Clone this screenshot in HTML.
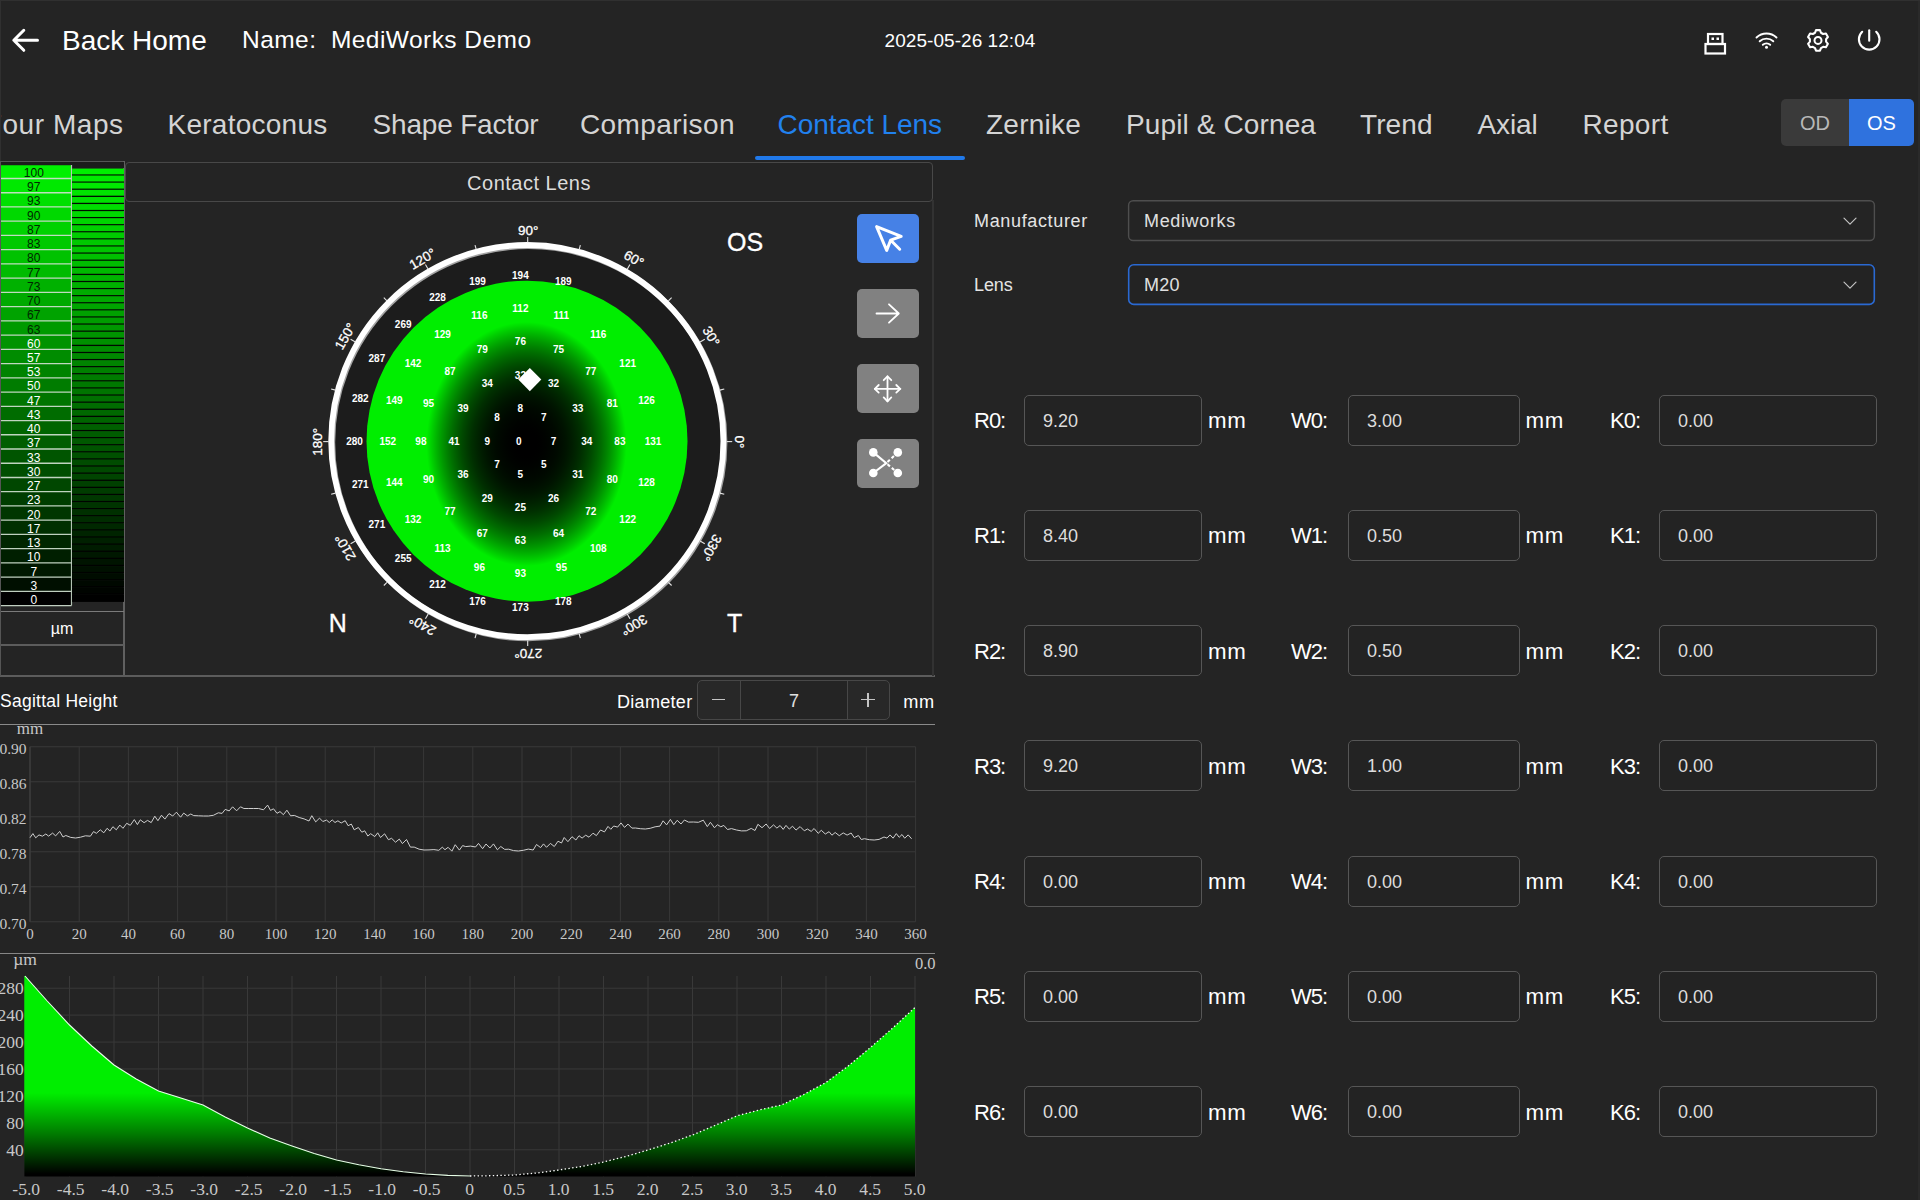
<!DOCTYPE html>
<html><head><meta charset="utf-8"><title>Contact Lens</title>
<style>
*{box-sizing:border-box;margin:0;padding:0}
html,body{width:1920px;height:1200px;overflow:hidden;background:#242424;font-family:"Liberation Sans",sans-serif;color:#fff}
.abs{position:absolute}
.t{position:absolute;white-space:nowrap;line-height:1}
.tab{position:absolute;top:109px;font-size:28px;color:#d4d4d4;white-space:nowrap;line-height:32px}
.inp{position:absolute;height:51px;border:1px solid #565656;border-radius:5px;background:#232323;font-size:18px;color:#dcdcdc;line-height:51px;padding-left:18px}
.lbl{position:absolute;font-size:22px;color:#fff;line-height:26px;white-space:nowrap;letter-spacing:-1px}
.mm{position:absolute;font-size:22.3px;color:#fff;line-height:26px;white-space:nowrap;letter-spacing:0.8px}
.hl{position:absolute;height:1px;background:#5a5a5a}
.vl{position:absolute;width:1px;background:#5a5a5a}
.btn{position:absolute;left:857px;width:62px;height:49px;border-radius:5px;background:#818181}
svg{position:absolute;left:0;top:0;overflow:visible}
svg text{font-family:"Liberation Sans",sans-serif}
.ser{font-family:"Liberation Serif",serif}
</style></head><body>

<svg width="1920" height="170" viewBox="0 0 1920 170">
<path d="M37.5 40.3H14M23.8 30.3L13.8 40.3l10 10" fill="none" stroke="#fff" stroke-width="3" stroke-linecap="round" stroke-linejoin="round"/>
<g fill="none" stroke="#fff" stroke-width="2.2"><rect x="1705.5" y="44" width="19.5" height="9.5"/><rect x="1708" y="34" width="14.5" height="10"/></g>
<rect x="1711.5" y="37.5" width="2.5" height="2.5" fill="#fff"/><rect x="1716.5" y="37.5" width="2.5" height="2.5" fill="#fff"/>
<g fill="none" stroke="#fff" stroke-width="1.9" stroke-linecap="round"><path d="M1756.5 37.5a14.5 14.5 0 0 1 20 0"/><path d="M1759.7 41.3a10 10 0 0 1 13.6 0"/><path d="M1762.8 44.8a5.6 5.6 0 0 1 7.4 0"/></g><circle cx="1766.5" cy="47.3" r="1.5" fill="#fff"/>
<path d="M1815.03 32.75 L1816.02 30.09 L1819.98 30.09 L1820.97 32.75 L1823.14 34.01 L1825.94 33.53 L1827.92 36.96 L1826.10 39.15 L1826.10 41.65 L1827.92 43.84 L1825.94 47.27 L1823.14 46.79 L1820.97 48.05 L1819.98 50.71 L1816.02 50.71 L1815.03 48.05 L1812.86 46.79 L1810.06 47.27 L1808.08 43.84 L1809.90 41.65 L1809.90 39.15 L1808.08 36.96 L1810.06 33.53 L1812.86 34.01Z" fill="none" stroke="#fff" stroke-width="2.1" stroke-linejoin="round"/>
<circle cx="1818.0" cy="40.4" r="3.5" fill="none" stroke="#fff" stroke-width="2"/>
<g fill="none" stroke="#fff" stroke-width="2.1" stroke-linecap="round"><path d="M1862.2 31.8a10.3 10.3 0 1 0 14 0"/><path d="M1869.2 30.2v10.6"/></g>
</svg>
<div class="t" style="left:62px;top:27px;font-size:28px;color:#fff">Back Home</div>
<div class="t" style="left:242px;top:27.5px;font-size:24.5px;letter-spacing:0.45px;color:#fff">Name:&nbsp; MediWorks Demo</div>
<div class="t" style="left:860px;width:200px;text-align:center;top:30.5px;font-size:19px;letter-spacing:0.05px;color:#fff">2025-05-26 12:04</div>
<div class="tab" style="left:-15.2px;letter-spacing:0.55px;">Four Maps</div>
<div class="tab" style="left:167.5px;letter-spacing:0.25px;">Keratoconus</div>
<div class="tab" style="left:372.5px;letter-spacing:-0.18px;">Shape Factor</div>
<div class="tab" style="left:580.0px;letter-spacing:0.40px;">Comparison</div>
<div class="tab" style="left:777.5px;letter-spacing:-0.04px;color:#2181ee;">Contact Lens</div>
<div class="tab" style="left:986.0px;letter-spacing:0.23px;">Zernike</div>
<div class="tab" style="left:1126.0px;letter-spacing:0.12px;">Pupil &amp; Cornea</div>
<div class="tab" style="left:1360.0px;letter-spacing:0.10px;">Trend</div>
<div class="tab" style="left:1477.5px;letter-spacing:-0.14px;">Axial</div>
<div class="tab" style="left:1582.5px;letter-spacing:0.33px;">Report</div>
<div class="abs" style="left:755px;top:156px;width:210px;height:4px;border-radius:2px;background:#2079ea"></div>
<div class="abs" style="left:1781px;top:99px;width:68px;height:47px;background:#3a3a3a;border-radius:5px 0 0 5px;color:#b8b8b8;font-size:20px;line-height:49.5px;text-align:center">OD</div>
<div class="abs" style="left:1849px;top:99px;width:65px;height:47px;background:#2f72de;border-radius:0 5px 5px 0;color:#fff;font-size:20px;line-height:49.5px;text-align:center">OS</div>
<div class="hl" style="left:0;top:161px;width:124px;background:#555"></div>
<div class="vl" style="left:123px;top:161px;height:515px;width:2px;background:#606060"></div>
<div class="hl" style="left:0;top:611px;width:124px;height:1px;background:#7a7a7a"></div>
<div class="hl" style="left:0;top:644px;width:124px;height:2px;background:#5c5c5c"></div>
<div class="hl" style="left:0;top:675px;width:935px;height:2px;background:#5c5c5c"></div>
<div class="vl" style="left:0;top:161px;height:515px;background:#555"></div>
<div class="abs" style="left:1px;top:162px;width:123px;height:6px;background:#1c1c1c"></div>
<svg width="130" height="680" viewBox="0 0 130 680">
<rect x="1" y="165.25" width="70.5" height="13.45" fill="rgb(0,240,0)"/>
<rect x="1" y="178.50" width="70.5" height="14.44" fill="rgb(0,233,0)"/>
<rect x="1" y="192.74" width="70.5" height="14.44" fill="rgb(0,224,0)"/>
<rect x="1" y="206.97" width="70.5" height="14.44" fill="rgb(0,217,0)"/>
<rect x="1" y="221.21" width="70.5" height="14.44" fill="rgb(0,210,0)"/>
<rect x="1" y="235.45" width="70.5" height="14.44" fill="rgb(0,201,0)"/>
<rect x="1" y="249.69" width="70.5" height="14.44" fill="rgb(0,194,0)"/>
<rect x="1" y="263.92" width="70.5" height="14.44" fill="rgb(0,187,0)"/>
<rect x="1" y="278.16" width="70.5" height="14.44" fill="rgb(0,177,0)"/>
<rect x="1" y="292.40" width="70.5" height="14.44" fill="rgb(0,170,0)"/>
<rect x="1" y="306.63" width="70.5" height="14.44" fill="rgb(0,163,0)"/>
<rect x="1" y="320.87" width="70.5" height="14.44" fill="rgb(0,154,0)"/>
<rect x="1" y="335.11" width="70.5" height="14.44" fill="rgb(0,147,0)"/>
<rect x="1" y="349.34" width="70.5" height="14.44" fill="rgb(0,140,0)"/>
<rect x="1" y="363.58" width="70.5" height="14.44" fill="rgb(0,131,0)"/>
<rect x="1" y="377.82" width="70.5" height="14.44" fill="rgb(0,124,0)"/>
<rect x="1" y="392.06" width="70.5" height="14.44" fill="rgb(0,117,0)"/>
<rect x="1" y="406.29" width="70.5" height="14.44" fill="rgb(0,108,0)"/>
<rect x="1" y="420.53" width="70.5" height="14.44" fill="rgb(0,101,0)"/>
<rect x="1" y="434.77" width="70.5" height="14.44" fill="rgb(0,94,0)"/>
<rect x="1" y="449.00" width="70.5" height="14.44" fill="rgb(0,85,0)"/>
<rect x="1" y="463.24" width="70.5" height="14.44" fill="rgb(0,78,0)"/>
<rect x="1" y="477.48" width="70.5" height="14.44" fill="rgb(0,71,0)"/>
<rect x="1" y="491.71" width="70.5" height="14.44" fill="rgb(0,61,0)"/>
<rect x="1" y="505.95" width="70.5" height="14.44" fill="rgb(0,54,0)"/>
<rect x="1" y="520.19" width="70.5" height="14.44" fill="rgb(0,47,0)"/>
<rect x="1" y="534.42" width="70.5" height="14.44" fill="rgb(0,38,0)"/>
<rect x="1" y="548.66" width="70.5" height="14.44" fill="rgb(0,31,0)"/>
<rect x="1" y="562.90" width="70.5" height="14.44" fill="rgb(0,24,0)"/>
<rect x="1" y="577.14" width="70.5" height="14.44" fill="rgb(0,15,0)"/>
<rect x="1" y="591.37" width="70.5" height="14.44" fill="rgb(0,0,0)"/>
<line x1="1" x2="71.5" y1="178.50" y2="178.50" stroke="#d0e0d0" stroke-width="1.3" opacity="0.92"/>
<line x1="1" x2="71.5" y1="192.74" y2="192.74" stroke="#d0e0d0" stroke-width="1.3" opacity="0.92"/>
<line x1="1" x2="71.5" y1="206.97" y2="206.97" stroke="#d0e0d0" stroke-width="1.3" opacity="0.92"/>
<line x1="1" x2="71.5" y1="221.21" y2="221.21" stroke="#d0e0d0" stroke-width="1.3" opacity="0.92"/>
<line x1="1" x2="71.5" y1="235.45" y2="235.45" stroke="#d0e0d0" stroke-width="1.3" opacity="0.92"/>
<line x1="1" x2="71.5" y1="249.69" y2="249.69" stroke="#d0e0d0" stroke-width="1.3" opacity="0.92"/>
<line x1="1" x2="71.5" y1="263.92" y2="263.92" stroke="#d0e0d0" stroke-width="1.3" opacity="0.92"/>
<line x1="1" x2="71.5" y1="278.16" y2="278.16" stroke="#d0e0d0" stroke-width="1.3" opacity="0.92"/>
<line x1="1" x2="71.5" y1="292.40" y2="292.40" stroke="#d0e0d0" stroke-width="1.3" opacity="0.92"/>
<line x1="1" x2="71.5" y1="306.63" y2="306.63" stroke="#d0e0d0" stroke-width="1.3" opacity="0.92"/>
<line x1="1" x2="71.5" y1="320.87" y2="320.87" stroke="#d0e0d0" stroke-width="1.3" opacity="0.92"/>
<line x1="1" x2="71.5" y1="335.11" y2="335.11" stroke="#d0e0d0" stroke-width="1.3" opacity="0.92"/>
<line x1="1" x2="71.5" y1="349.34" y2="349.34" stroke="#d0e0d0" stroke-width="1.3" opacity="0.92"/>
<line x1="1" x2="71.5" y1="363.58" y2="363.58" stroke="#d0e0d0" stroke-width="1.3" opacity="0.92"/>
<line x1="1" x2="71.5" y1="377.82" y2="377.82" stroke="#d0e0d0" stroke-width="1.3" opacity="0.92"/>
<line x1="1" x2="71.5" y1="392.06" y2="392.06" stroke="#d0e0d0" stroke-width="1.3" opacity="0.92"/>
<line x1="1" x2="71.5" y1="406.29" y2="406.29" stroke="#d0e0d0" stroke-width="1.3" opacity="0.92"/>
<line x1="1" x2="71.5" y1="420.53" y2="420.53" stroke="#d0e0d0" stroke-width="1.3" opacity="0.92"/>
<line x1="1" x2="71.5" y1="434.77" y2="434.77" stroke="#d0e0d0" stroke-width="1.3" opacity="0.92"/>
<line x1="1" x2="71.5" y1="449.00" y2="449.00" stroke="#d0e0d0" stroke-width="1.3" opacity="0.92"/>
<line x1="1" x2="71.5" y1="463.24" y2="463.24" stroke="#d0e0d0" stroke-width="1.3" opacity="0.92"/>
<line x1="1" x2="71.5" y1="477.48" y2="477.48" stroke="#d0e0d0" stroke-width="1.3" opacity="0.92"/>
<line x1="1" x2="71.5" y1="491.71" y2="491.71" stroke="#d0e0d0" stroke-width="1.3" opacity="0.92"/>
<line x1="1" x2="71.5" y1="505.95" y2="505.95" stroke="#d0e0d0" stroke-width="1.3" opacity="0.92"/>
<line x1="1" x2="71.5" y1="520.19" y2="520.19" stroke="#d0e0d0" stroke-width="1.3" opacity="0.92"/>
<line x1="1" x2="71.5" y1="534.42" y2="534.42" stroke="#d0e0d0" stroke-width="1.3" opacity="0.92"/>
<line x1="1" x2="71.5" y1="548.66" y2="548.66" stroke="#d0e0d0" stroke-width="1.3" opacity="0.92"/>
<line x1="1" x2="71.5" y1="562.90" y2="562.90" stroke="#d0e0d0" stroke-width="1.3" opacity="0.92"/>
<line x1="1" x2="71.5" y1="577.14" y2="577.14" stroke="#d0e0d0" stroke-width="1.3" opacity="0.92"/>
<line x1="1" x2="71.5" y1="591.37" y2="591.37" stroke="#d0e0d0" stroke-width="1.3" opacity="0.92"/>
<line x1="1" x2="71.5" y1="605.61" y2="605.61" stroke="#d0e0d0" stroke-width="1.3" opacity="0.92"/>
<line x1="71.5" x2="71.5" y1="165" y2="605.5" stroke="#c4d4c4" stroke-width="1.2" opacity="0.9"/>
<text x="33.8" y="176.90" font-size="12" text-anchor="middle" fill="#002800">100</text>
<text x="33.8" y="191.14" font-size="12" text-anchor="middle" fill="#002800">97</text>
<text x="33.8" y="205.37" font-size="12" text-anchor="middle" fill="#002800">93</text>
<text x="33.8" y="219.61" font-size="12" text-anchor="middle" fill="#002800">90</text>
<text x="33.8" y="233.85" font-size="12" text-anchor="middle" fill="#002800">87</text>
<text x="33.8" y="248.09" font-size="12" text-anchor="middle" fill="#002800">83</text>
<text x="33.8" y="262.32" font-size="12" text-anchor="middle" fill="#002800">80</text>
<text x="33.8" y="276.56" font-size="12" text-anchor="middle" fill="#002800">77</text>
<text x="33.8" y="290.80" font-size="12" text-anchor="middle" fill="#002800">73</text>
<text x="33.8" y="305.03" font-size="12" text-anchor="middle" fill="#002800">70</text>
<text x="33.8" y="319.27" font-size="12" text-anchor="middle" fill="#002800">67</text>
<text x="33.8" y="333.51" font-size="12" text-anchor="middle" fill="#002800">63</text>
<text x="33.8" y="347.74" font-size="12" text-anchor="middle" fill="#fff">60</text>
<text x="33.8" y="361.98" font-size="12" text-anchor="middle" fill="#fff">57</text>
<text x="33.8" y="376.22" font-size="12" text-anchor="middle" fill="#fff">53</text>
<text x="33.8" y="390.45" font-size="12" text-anchor="middle" fill="#fff">50</text>
<text x="33.8" y="404.69" font-size="12" text-anchor="middle" fill="#fff">47</text>
<text x="33.8" y="418.93" font-size="12" text-anchor="middle" fill="#fff">43</text>
<text x="33.8" y="433.17" font-size="12" text-anchor="middle" fill="#fff">40</text>
<text x="33.8" y="447.40" font-size="12" text-anchor="middle" fill="#fff">37</text>
<text x="33.8" y="461.64" font-size="12" text-anchor="middle" fill="#fff">33</text>
<text x="33.8" y="475.88" font-size="12" text-anchor="middle" fill="#fff">30</text>
<text x="33.8" y="490.11" font-size="12" text-anchor="middle" fill="#fff">27</text>
<text x="33.8" y="504.35" font-size="12" text-anchor="middle" fill="#fff">23</text>
<text x="33.8" y="518.59" font-size="12" text-anchor="middle" fill="#fff">20</text>
<text x="33.8" y="532.82" font-size="12" text-anchor="middle" fill="#fff">17</text>
<text x="33.8" y="547.06" font-size="12" text-anchor="middle" fill="#fff">13</text>
<text x="33.8" y="561.30" font-size="12" text-anchor="middle" fill="#fff">10</text>
<text x="33.8" y="575.54" font-size="12" text-anchor="middle" fill="#fff">7</text>
<text x="33.8" y="589.77" font-size="12" text-anchor="middle" fill="#fff">3</text>
<text x="33.8" y="604.01" font-size="12" text-anchor="middle" fill="#fff">0</text>
<rect x="72" y="168.60" width="52" height="7.20" fill="rgb(0,240,0)"/>
<rect x="72" y="174.40" width="52" height="1.3" fill="rgb(0,14,0)"/>
<rect x="72" y="175.70" width="52" height="7.20" fill="rgb(0,236,0)"/>
<rect x="72" y="181.50" width="52" height="1.3" fill="rgb(0,14,0)"/>
<rect x="72" y="182.80" width="52" height="7.20" fill="rgb(0,232,0)"/>
<rect x="72" y="188.60" width="52" height="1.3" fill="rgb(0,14,0)"/>
<rect x="72" y="189.90" width="52" height="7.20" fill="rgb(0,228,0)"/>
<rect x="72" y="195.69" width="52" height="1.3" fill="rgb(0,14,0)"/>
<rect x="72" y="196.99" width="52" height="7.20" fill="rgb(0,224,0)"/>
<rect x="72" y="202.79" width="52" height="1.3" fill="rgb(0,13,0)"/>
<rect x="72" y="204.09" width="52" height="7.20" fill="rgb(0,220,0)"/>
<rect x="72" y="209.89" width="52" height="1.3" fill="rgb(0,13,0)"/>
<rect x="72" y="211.19" width="52" height="7.20" fill="rgb(0,216,0)"/>
<rect x="72" y="216.99" width="52" height="1.3" fill="rgb(0,13,0)"/>
<rect x="72" y="218.29" width="52" height="7.20" fill="rgb(0,212,0)"/>
<rect x="72" y="224.09" width="52" height="1.3" fill="rgb(0,13,0)"/>
<rect x="72" y="225.39" width="52" height="7.20" fill="rgb(0,208,0)"/>
<rect x="72" y="231.19" width="52" height="1.3" fill="rgb(0,12,0)"/>
<rect x="72" y="232.49" width="52" height="7.20" fill="rgb(0,204,0)"/>
<rect x="72" y="238.28" width="52" height="1.3" fill="rgb(0,12,0)"/>
<rect x="72" y="239.58" width="52" height="7.20" fill="rgb(0,200,0)"/>
<rect x="72" y="245.38" width="52" height="1.3" fill="rgb(0,12,0)"/>
<rect x="72" y="246.68" width="52" height="7.20" fill="rgb(0,196,0)"/>
<rect x="72" y="252.48" width="52" height="1.3" fill="rgb(0,12,0)"/>
<rect x="72" y="253.78" width="52" height="7.20" fill="rgb(0,192,0)"/>
<rect x="72" y="259.58" width="52" height="1.3" fill="rgb(0,12,0)"/>
<rect x="72" y="260.88" width="52" height="7.20" fill="rgb(0,188,0)"/>
<rect x="72" y="266.68" width="52" height="1.3" fill="rgb(0,11,0)"/>
<rect x="72" y="267.98" width="52" height="7.20" fill="rgb(0,184,0)"/>
<rect x="72" y="273.78" width="52" height="1.3" fill="rgb(0,11,0)"/>
<rect x="72" y="275.08" width="52" height="7.20" fill="rgb(0,180,0)"/>
<rect x="72" y="280.87" width="52" height="1.3" fill="rgb(0,11,0)"/>
<rect x="72" y="282.17" width="52" height="7.20" fill="rgb(0,176,0)"/>
<rect x="72" y="287.97" width="52" height="1.3" fill="rgb(0,11,0)"/>
<rect x="72" y="289.27" width="52" height="7.20" fill="rgb(0,172,0)"/>
<rect x="72" y="295.07" width="52" height="1.3" fill="rgb(0,10,0)"/>
<rect x="72" y="296.37" width="52" height="7.20" fill="rgb(0,168,0)"/>
<rect x="72" y="302.17" width="52" height="1.3" fill="rgb(0,10,0)"/>
<rect x="72" y="303.47" width="52" height="7.20" fill="rgb(0,164,0)"/>
<rect x="72" y="309.27" width="52" height="1.3" fill="rgb(0,10,0)"/>
<rect x="72" y="310.57" width="52" height="7.20" fill="rgb(0,160,0)"/>
<rect x="72" y="316.37" width="52" height="1.3" fill="rgb(0,10,0)"/>
<rect x="72" y="317.67" width="52" height="7.20" fill="rgb(0,156,0)"/>
<rect x="72" y="323.46" width="52" height="1.3" fill="rgb(0,9,0)"/>
<rect x="72" y="324.76" width="52" height="7.20" fill="rgb(0,152,0)"/>
<rect x="72" y="330.56" width="52" height="1.3" fill="rgb(0,9,0)"/>
<rect x="72" y="331.86" width="52" height="7.20" fill="rgb(0,148,0)"/>
<rect x="72" y="337.66" width="52" height="1.3" fill="rgb(0,9,0)"/>
<rect x="72" y="338.96" width="52" height="7.20" fill="rgb(0,144,0)"/>
<rect x="72" y="344.76" width="52" height="1.3" fill="rgb(0,9,0)"/>
<rect x="72" y="346.06" width="52" height="7.20" fill="rgb(0,140,0)"/>
<rect x="72" y="351.86" width="52" height="1.3" fill="rgb(0,8,0)"/>
<rect x="72" y="353.16" width="52" height="7.20" fill="rgb(0,136,0)"/>
<rect x="72" y="358.96" width="52" height="1.3" fill="rgb(0,8,0)"/>
<rect x="72" y="360.26" width="52" height="7.20" fill="rgb(0,132,0)"/>
<rect x="72" y="366.05" width="52" height="1.3" fill="rgb(0,8,0)"/>
<rect x="72" y="367.35" width="52" height="7.20" fill="rgb(0,128,0)"/>
<rect x="72" y="373.15" width="52" height="1.3" fill="rgb(0,8,0)"/>
<rect x="72" y="374.45" width="52" height="7.20" fill="rgb(0,124,0)"/>
<rect x="72" y="380.25" width="52" height="1.3" fill="rgb(0,7,0)"/>
<rect x="72" y="381.55" width="52" height="7.20" fill="rgb(0,120,0)"/>
<rect x="72" y="387.35" width="52" height="1.3" fill="rgb(0,7,0)"/>
<rect x="72" y="388.65" width="52" height="7.20" fill="rgb(0,116,0)"/>
<rect x="72" y="394.45" width="52" height="1.3" fill="rgb(0,7,0)"/>
<rect x="72" y="395.75" width="52" height="7.20" fill="rgb(0,112,0)"/>
<rect x="72" y="401.55" width="52" height="1.3" fill="rgb(0,7,0)"/>
<rect x="72" y="402.85" width="52" height="7.20" fill="rgb(0,108,0)"/>
<rect x="72" y="408.64" width="52" height="1.3" fill="rgb(0,6,0)"/>
<rect x="72" y="409.94" width="52" height="7.20" fill="rgb(0,104,0)"/>
<rect x="72" y="415.74" width="52" height="1.3" fill="rgb(0,6,0)"/>
<rect x="72" y="417.04" width="52" height="7.20" fill="rgb(0,100,0)"/>
<rect x="72" y="422.84" width="52" height="1.3" fill="rgb(0,6,0)"/>
<rect x="72" y="424.14" width="52" height="7.20" fill="rgb(0,96,0)"/>
<rect x="72" y="429.94" width="52" height="1.3" fill="rgb(0,6,0)"/>
<rect x="72" y="431.24" width="52" height="7.20" fill="rgb(0,92,0)"/>
<rect x="72" y="437.04" width="52" height="1.3" fill="rgb(0,6,0)"/>
<rect x="72" y="438.34" width="52" height="7.20" fill="rgb(0,88,0)"/>
<rect x="72" y="444.14" width="52" height="1.3" fill="rgb(0,5,0)"/>
<rect x="72" y="445.44" width="52" height="7.20" fill="rgb(0,84,0)"/>
<rect x="72" y="451.23" width="52" height="1.3" fill="rgb(0,5,0)"/>
<rect x="72" y="452.53" width="52" height="7.20" fill="rgb(0,80,0)"/>
<rect x="72" y="458.33" width="52" height="1.3" fill="rgb(0,5,0)"/>
<rect x="72" y="459.63" width="52" height="7.20" fill="rgb(0,76,0)"/>
<rect x="72" y="465.43" width="52" height="1.3" fill="rgb(0,5,0)"/>
<rect x="72" y="466.73" width="52" height="7.20" fill="rgb(0,72,0)"/>
<rect x="72" y="472.53" width="52" height="1.3" fill="rgb(0,4,0)"/>
<rect x="72" y="473.83" width="52" height="7.20" fill="rgb(0,68,0)"/>
<rect x="72" y="479.63" width="52" height="1.3" fill="rgb(0,4,0)"/>
<rect x="72" y="480.93" width="52" height="7.20" fill="rgb(0,64,0)"/>
<rect x="72" y="486.73" width="52" height="1.3" fill="rgb(0,4,0)"/>
<rect x="72" y="488.03" width="52" height="7.20" fill="rgb(0,60,0)"/>
<rect x="72" y="493.82" width="52" height="1.3" fill="rgb(0,4,0)"/>
<rect x="72" y="495.12" width="52" height="7.20" fill="rgb(0,56,0)"/>
<rect x="72" y="500.92" width="52" height="1.3" fill="rgb(0,3,0)"/>
<rect x="72" y="502.22" width="52" height="7.20" fill="rgb(0,52,0)"/>
<rect x="72" y="508.02" width="52" height="1.3" fill="rgb(0,3,0)"/>
<rect x="72" y="509.32" width="52" height="7.20" fill="rgb(0,48,0)"/>
<rect x="72" y="515.12" width="52" height="1.3" fill="rgb(0,3,0)"/>
<rect x="72" y="516.42" width="52" height="7.20" fill="rgb(0,44,0)"/>
<rect x="72" y="522.22" width="52" height="1.3" fill="rgb(0,3,0)"/>
<rect x="72" y="523.52" width="52" height="7.20" fill="rgb(0,40,0)"/>
<rect x="72" y="529.32" width="52" height="1.3" fill="rgb(0,2,0)"/>
<rect x="72" y="530.62" width="52" height="7.20" fill="rgb(0,36,0)"/>
<rect x="72" y="536.41" width="52" height="1.3" fill="rgb(0,2,0)"/>
<rect x="72" y="537.71" width="52" height="7.20" fill="rgb(0,32,0)"/>
<rect x="72" y="543.51" width="52" height="1.3" fill="rgb(0,2,0)"/>
<rect x="72" y="544.81" width="52" height="7.20" fill="rgb(0,28,0)"/>
<rect x="72" y="550.61" width="52" height="1.3" fill="rgb(0,2,0)"/>
<rect x="72" y="551.91" width="52" height="7.20" fill="rgb(0,24,0)"/>
<rect x="72" y="557.71" width="52" height="1.3" fill="rgb(0,1,0)"/>
<rect x="72" y="559.01" width="52" height="7.20" fill="rgb(0,20,0)"/>
<rect x="72" y="564.81" width="52" height="1.3" fill="rgb(0,1,0)"/>
<rect x="72" y="566.11" width="52" height="7.20" fill="rgb(0,16,0)"/>
<rect x="72" y="571.91" width="52" height="1.3" fill="rgb(0,1,0)"/>
<rect x="72" y="573.21" width="52" height="7.20" fill="rgb(0,12,0)"/>
<rect x="72" y="579.00" width="52" height="1.3" fill="rgb(0,1,0)"/>
<rect x="72" y="580.30" width="52" height="7.20" fill="rgb(0,8,0)"/>
<rect x="72" y="586.10" width="52" height="1.3" fill="rgb(0,0,0)"/>
<rect x="72" y="587.40" width="52" height="7.20" fill="rgb(0,4,0)"/>
<rect x="72" y="593.20" width="52" height="1.3" fill="rgb(0,0,0)"/>
<rect x="72" y="594.50" width="52" height="7.20" fill="rgb(0,0,0)"/>
<rect x="72" y="600.30" width="52" height="1.3" fill="rgb(0,0,0)"/>
</svg>
<div class="t" style="left:0;width:124px;text-align:center;top:621px;font-size:16px;color:#fff">µm</div>
<div class="abs" style="left:125px;top:161.5px;width:808px;height:40px;border:1px solid #484848;border-radius:4px;font-size:20px;letter-spacing:0.5px;line-height:40.5px;text-align:center;color:#dcdcdc">Contact Lens</div>
<div class="vl" style="left:932px;top:200px;height:476px;width:2px;background:#323232"></div>
<div class="btn" style="top:214px;background:#4681e6"></div>
<div class="btn" style="top:288.7px"></div>
<div class="btn" style="top:364px"></div>
<div class="btn" style="top:439px"></div>
<svg width="1920" height="700" viewBox="0 0 1920 700">
<path d="M876.6 226.6L901.2 236.4L890.6 240.2L886.7 250.4Z M891 240.5L899.7 249.2" fill="none" stroke="#fff" stroke-width="3" stroke-linejoin="round" stroke-linecap="round"/>
<path d="M876.5 313.5h22M889 304.3l9.8 9.2l-9.8 9.2" fill="none" stroke="#fff" stroke-width="1.8" stroke-linecap="round" stroke-linejoin="round"/>
<g fill="none" stroke="#fff" stroke-width="1.8" stroke-linecap="round" stroke-linejoin="round"><path d="M887.5 376.3v25M874.8 388.8h25.6"/><path d="M883.7 380.2l3.8-3.9l3.8 3.9M883.7 397.4l3.8 3.9l3.8-3.9M878.7 385l-3.9 3.8l3.9 3.8M896.3 385l3.9 3.8l-3.9 3.8"/></g>
<g stroke="#fff" stroke-width="2.1" fill="none"><path d="M873.3 452.4L886.3 463.2L873.3 473"/><path d="M887.5 462L897.8 452.4M887.5 464.3L897.8 473" stroke-dasharray="3.2 2.4"/></g>
<circle cx="873.3" cy="452.4" r="4.3" fill="#fff"/>
<circle cx="897.8" cy="452.4" r="4.3" fill="#fff"/>
<circle cx="873.3" cy="473.0" r="4.3" fill="#fff"/>
<circle cx="897.8" cy="473.0" r="4.3" fill="#fff"/>
<circle cx="527.7" cy="441.6" r="196" fill="#1c1c1c"/>
<defs><radialGradient id="rg" cx="0" cy="0" r="1" gradientUnits="userSpaceOnUse" gradientTransform="translate(526.5 444) scale(100 122)">
<stop offset="0.00" stop-color="rgb(0,0,0)"/>
<stop offset="0.05" stop-color="rgb(0,0,0)"/>
<stop offset="0.10" stop-color="rgb(0,0,0)"/>
<stop offset="0.15" stop-color="rgb(0,1,0)"/>
<stop offset="0.20" stop-color="rgb(0,3,0)"/>
<stop offset="0.25" stop-color="rgb(0,6,0)"/>
<stop offset="0.30" stop-color="rgb(0,9,0)"/>
<stop offset="0.35" stop-color="rgb(0,14,0)"/>
<stop offset="0.40" stop-color="rgb(0,20,0)"/>
<stop offset="0.45" stop-color="rgb(0,28,0)"/>
<stop offset="0.50" stop-color="rgb(0,37,0)"/>
<stop offset="0.55" stop-color="rgb(0,47,0)"/>
<stop offset="0.60" stop-color="rgb(0,60,0)"/>
<stop offset="0.65" stop-color="rgb(0,74,0)"/>
<stop offset="0.70" stop-color="rgb(0,91,0)"/>
<stop offset="0.75" stop-color="rgb(0,109,0)"/>
<stop offset="0.80" stop-color="rgb(0,130,0)"/>
<stop offset="0.85" stop-color="rgb(0,153,0)"/>
<stop offset="0.90" stop-color="rgb(0,179,0)"/>
<stop offset="0.95" stop-color="rgb(0,207,0)"/>
<stop offset="1.00" stop-color="rgb(0,238,0)"/>
</radialGradient></defs>
<circle cx="527" cy="441.2" r="160.5" fill="url(#rg)"/>
<circle cx="528.5" cy="442.4" r="196.1" fill="none" stroke="#a4a4a4" stroke-width="5.6"/>
<circle cx="527.3" cy="441.1" r="196.1" fill="none" stroke="#fff" stroke-width="5.8"/>
<line x1="726.70" y1="441.60" x2="732.20" y2="441.60" stroke="#e4e4e4" stroke-width="1.1"/>
<line x1="719.92" y1="390.10" x2="724.27" y2="388.93" stroke="#e4e4e4" stroke-width="1.1"/>
<line x1="700.04" y1="342.10" x2="704.80" y2="339.35" stroke="#e4e4e4" stroke-width="1.1"/>
<line x1="668.41" y1="300.89" x2="671.60" y2="297.70" stroke="#e4e4e4" stroke-width="1.1"/>
<line x1="627.20" y1="269.26" x2="629.95" y2="264.50" stroke="#e4e4e4" stroke-width="1.1"/>
<line x1="579.20" y1="249.38" x2="580.37" y2="245.03" stroke="#e4e4e4" stroke-width="1.1"/>
<line x1="527.70" y1="242.60" x2="527.70" y2="237.10" stroke="#e4e4e4" stroke-width="1.1"/>
<line x1="476.20" y1="249.38" x2="475.03" y2="245.03" stroke="#e4e4e4" stroke-width="1.1"/>
<line x1="428.20" y1="269.26" x2="425.45" y2="264.50" stroke="#e4e4e4" stroke-width="1.1"/>
<line x1="386.99" y1="300.89" x2="383.80" y2="297.70" stroke="#e4e4e4" stroke-width="1.1"/>
<line x1="355.36" y1="342.10" x2="350.60" y2="339.35" stroke="#e4e4e4" stroke-width="1.1"/>
<line x1="335.48" y1="390.10" x2="331.13" y2="388.93" stroke="#e4e4e4" stroke-width="1.1"/>
<line x1="328.70" y1="441.60" x2="323.20" y2="441.60" stroke="#e4e4e4" stroke-width="1.1"/>
<line x1="335.48" y1="493.10" x2="331.13" y2="494.27" stroke="#e4e4e4" stroke-width="1.1"/>
<line x1="355.36" y1="541.10" x2="350.60" y2="543.85" stroke="#e4e4e4" stroke-width="1.1"/>
<line x1="386.99" y1="582.31" x2="383.80" y2="585.50" stroke="#e4e4e4" stroke-width="1.1"/>
<line x1="428.20" y1="613.94" x2="425.45" y2="618.70" stroke="#e4e4e4" stroke-width="1.1"/>
<line x1="476.20" y1="633.82" x2="475.03" y2="638.17" stroke="#e4e4e4" stroke-width="1.1"/>
<line x1="527.70" y1="640.60" x2="527.70" y2="646.10" stroke="#e4e4e4" stroke-width="1.1"/>
<line x1="579.20" y1="633.82" x2="580.37" y2="638.17" stroke="#e4e4e4" stroke-width="1.1"/>
<line x1="627.20" y1="613.94" x2="629.95" y2="618.70" stroke="#e4e4e4" stroke-width="1.1"/>
<line x1="668.41" y1="582.31" x2="671.60" y2="585.50" stroke="#e4e4e4" stroke-width="1.1"/>
<line x1="700.04" y1="541.10" x2="704.80" y2="543.85" stroke="#e4e4e4" stroke-width="1.1"/>
<line x1="719.92" y1="493.10" x2="724.27" y2="494.27" stroke="#e4e4e4" stroke-width="1.1"/>
<text x="0" y="0" font-size="13.5" fill="#fff" stroke="#fff" stroke-width="0.3" text-anchor="middle" transform="translate(739.40 441.90) rotate(90)" dy="4.5">0°</text>
<text x="0" y="0" font-size="13.5" fill="#fff" stroke="#fff" stroke-width="0.3" text-anchor="middle" transform="translate(711.10 336.30) rotate(60)" dy="4.5">30°</text>
<text x="0" y="0" font-size="13.5" fill="#fff" stroke="#fff" stroke-width="0.3" text-anchor="middle" transform="translate(633.80 259.00) rotate(30)" dy="4.5">60°</text>
<text x="0" y="0" font-size="13.5" fill="#fff" stroke="#fff" stroke-width="0.3" text-anchor="middle" transform="translate(528.20 230.70) rotate(0)" dy="4.5">90°</text>
<text x="0" y="0" font-size="13.5" fill="#fff" stroke="#fff" stroke-width="0.3" text-anchor="middle" transform="translate(422.60 259.00) rotate(-30)" dy="4.5">120°</text>
<text x="0" y="0" font-size="13.5" fill="#fff" stroke="#fff" stroke-width="0.3" text-anchor="middle" transform="translate(345.30 336.30) rotate(-60)" dy="4.5">150°</text>
<text x="0" y="0" font-size="13.5" fill="#fff" stroke="#fff" stroke-width="0.3" text-anchor="middle" transform="translate(317.00 441.90) rotate(-90)" dy="4.5">180°</text>
<text x="0" y="0" font-size="13.5" fill="#fff" stroke="#fff" stroke-width="0.3" text-anchor="middle" transform="translate(345.30 547.50) rotate(-120)" dy="4.5">210°</text>
<text x="0" y="0" font-size="13.5" fill="#fff" stroke="#fff" stroke-width="0.3" text-anchor="middle" transform="translate(422.60 624.80) rotate(-150)" dy="4.5">240°</text>
<text x="0" y="0" font-size="13.5" fill="#fff" stroke="#fff" stroke-width="0.3" text-anchor="middle" transform="translate(528.20 653.10) rotate(-180)" dy="4.5">270°</text>
<text x="0" y="0" font-size="13.5" fill="#fff" stroke="#fff" stroke-width="0.3" text-anchor="middle" transform="translate(633.80 624.80) rotate(-210)" dy="4.5">300°</text>
<text x="0" y="0" font-size="13.5" fill="#fff" stroke="#fff" stroke-width="0.3" text-anchor="middle" transform="translate(711.10 547.50) rotate(-240)" dy="4.5">330°</text>
<text x="518.7" y="445.0" font-size="10" font-weight="bold" fill="#fff" text-anchor="middle">0</text>
<text x="520.4" y="411.7" font-size="10" font-weight="bold" fill="#fff" text-anchor="middle">8</text>
<text x="543.8" y="421.4" font-size="10" font-weight="bold" fill="#fff" text-anchor="middle">7</text>
<text x="553.5" y="444.8" font-size="10" font-weight="bold" fill="#fff" text-anchor="middle">7</text>
<text x="543.8" y="468.2" font-size="10" font-weight="bold" fill="#fff" text-anchor="middle">5</text>
<text x="520.4" y="477.9" font-size="10" font-weight="bold" fill="#fff" text-anchor="middle">5</text>
<text x="497.0" y="468.2" font-size="10" font-weight="bold" fill="#fff" text-anchor="middle">7</text>
<text x="487.2" y="444.8" font-size="10" font-weight="bold" fill="#fff" text-anchor="middle">9</text>
<text x="497.0" y="421.4" font-size="10" font-weight="bold" fill="#fff" text-anchor="middle">8</text>
<text x="520.4" y="378.5" font-size="10" font-weight="bold" fill="#fff" text-anchor="middle">32</text>
<text x="553.5" y="387.4" font-size="10" font-weight="bold" fill="#fff" text-anchor="middle">32</text>
<text x="577.8" y="411.7" font-size="10" font-weight="bold" fill="#fff" text-anchor="middle">33</text>
<text x="586.7" y="444.8" font-size="10" font-weight="bold" fill="#fff" text-anchor="middle">34</text>
<text x="577.8" y="477.9" font-size="10" font-weight="bold" fill="#fff" text-anchor="middle">31</text>
<text x="553.5" y="502.2" font-size="10" font-weight="bold" fill="#fff" text-anchor="middle">26</text>
<text x="520.4" y="511.1" font-size="10" font-weight="bold" fill="#fff" text-anchor="middle">25</text>
<text x="487.2" y="502.2" font-size="10" font-weight="bold" fill="#fff" text-anchor="middle">29</text>
<text x="463.0" y="477.9" font-size="10" font-weight="bold" fill="#fff" text-anchor="middle">36</text>
<text x="454.1" y="444.8" font-size="10" font-weight="bold" fill="#fff" text-anchor="middle">41</text>
<text x="463.0" y="411.7" font-size="10" font-weight="bold" fill="#fff" text-anchor="middle">39</text>
<text x="487.2" y="387.4" font-size="10" font-weight="bold" fill="#fff" text-anchor="middle">34</text>
<text x="520.4" y="345.4" font-size="10" font-weight="bold" fill="#fff" text-anchor="middle">76</text>
<text x="558.5" y="352.9" font-size="10" font-weight="bold" fill="#fff" text-anchor="middle">75</text>
<text x="590.7" y="374.5" font-size="10" font-weight="bold" fill="#fff" text-anchor="middle">77</text>
<text x="612.3" y="406.7" font-size="10" font-weight="bold" fill="#fff" text-anchor="middle">81</text>
<text x="619.9" y="444.8" font-size="10" font-weight="bold" fill="#fff" text-anchor="middle">83</text>
<text x="612.3" y="482.9" font-size="10" font-weight="bold" fill="#fff" text-anchor="middle">80</text>
<text x="590.7" y="515.1" font-size="10" font-weight="bold" fill="#fff" text-anchor="middle">72</text>
<text x="558.5" y="536.7" font-size="10" font-weight="bold" fill="#fff" text-anchor="middle">64</text>
<text x="520.4" y="544.3" font-size="10" font-weight="bold" fill="#fff" text-anchor="middle">63</text>
<text x="482.3" y="536.7" font-size="10" font-weight="bold" fill="#fff" text-anchor="middle">67</text>
<text x="450.1" y="515.1" font-size="10" font-weight="bold" fill="#fff" text-anchor="middle">77</text>
<text x="428.5" y="482.9" font-size="10" font-weight="bold" fill="#fff" text-anchor="middle">90</text>
<text x="420.9" y="444.8" font-size="10" font-weight="bold" fill="#fff" text-anchor="middle">98</text>
<text x="428.5" y="406.7" font-size="10" font-weight="bold" fill="#fff" text-anchor="middle">95</text>
<text x="450.1" y="374.5" font-size="10" font-weight="bold" fill="#fff" text-anchor="middle">87</text>
<text x="482.3" y="352.9" font-size="10" font-weight="bold" fill="#fff" text-anchor="middle">79</text>
<text x="520.4" y="312.2" font-size="10" font-weight="bold" fill="#fff" text-anchor="middle">112</text>
<text x="561.4" y="318.7" font-size="10" font-weight="bold" fill="#fff" text-anchor="middle">111</text>
<text x="598.3" y="337.5" font-size="10" font-weight="bold" fill="#fff" text-anchor="middle">116</text>
<text x="627.7" y="366.9" font-size="10" font-weight="bold" fill="#fff" text-anchor="middle">121</text>
<text x="646.5" y="403.8" font-size="10" font-weight="bold" fill="#fff" text-anchor="middle">126</text>
<text x="653.0" y="444.8" font-size="10" font-weight="bold" fill="#fff" text-anchor="middle">131</text>
<text x="646.5" y="485.8" font-size="10" font-weight="bold" fill="#fff" text-anchor="middle">128</text>
<text x="627.7" y="522.7" font-size="10" font-weight="bold" fill="#fff" text-anchor="middle">122</text>
<text x="598.3" y="552.1" font-size="10" font-weight="bold" fill="#fff" text-anchor="middle">108</text>
<text x="561.4" y="570.9" font-size="10" font-weight="bold" fill="#fff" text-anchor="middle">95</text>
<text x="520.4" y="577.4" font-size="10" font-weight="bold" fill="#fff" text-anchor="middle">93</text>
<text x="479.4" y="570.9" font-size="10" font-weight="bold" fill="#fff" text-anchor="middle">96</text>
<text x="442.5" y="552.1" font-size="10" font-weight="bold" fill="#fff" text-anchor="middle">113</text>
<text x="413.1" y="522.7" font-size="10" font-weight="bold" fill="#fff" text-anchor="middle">132</text>
<text x="394.3" y="485.8" font-size="10" font-weight="bold" fill="#fff" text-anchor="middle">144</text>
<text x="387.8" y="444.8" font-size="10" font-weight="bold" fill="#fff" text-anchor="middle">152</text>
<text x="394.3" y="403.8" font-size="10" font-weight="bold" fill="#fff" text-anchor="middle">149</text>
<text x="413.1" y="366.9" font-size="10" font-weight="bold" fill="#fff" text-anchor="middle">142</text>
<text x="442.5" y="337.5" font-size="10" font-weight="bold" fill="#fff" text-anchor="middle">129</text>
<text x="479.4" y="318.7" font-size="10" font-weight="bold" fill="#fff" text-anchor="middle">116</text>
<text x="520.4" y="279.1" font-size="10" font-weight="bold" fill="#fff" text-anchor="middle">194</text>
<text x="563.3" y="284.7" font-size="10" font-weight="bold" fill="#fff" text-anchor="middle">189</text>
<text x="563.3" y="604.9" font-size="10" font-weight="bold" fill="#fff" text-anchor="middle">178</text>
<text x="520.4" y="610.6" font-size="10" font-weight="bold" fill="#fff" text-anchor="middle">173</text>
<text x="477.5" y="604.9" font-size="10" font-weight="bold" fill="#fff" text-anchor="middle">176</text>
<text x="437.5" y="588.3" font-size="10" font-weight="bold" fill="#fff" text-anchor="middle">212</text>
<text x="403.2" y="562.0" font-size="10" font-weight="bold" fill="#fff" text-anchor="middle">255</text>
<text x="376.9" y="527.7" font-size="10" font-weight="bold" fill="#fff" text-anchor="middle">271</text>
<text x="360.3" y="487.7" font-size="10" font-weight="bold" fill="#fff" text-anchor="middle">271</text>
<text x="354.6" y="444.8" font-size="10" font-weight="bold" fill="#fff" text-anchor="middle">280</text>
<text x="360.3" y="401.9" font-size="10" font-weight="bold" fill="#fff" text-anchor="middle">282</text>
<text x="376.9" y="361.9" font-size="10" font-weight="bold" fill="#fff" text-anchor="middle">287</text>
<text x="403.2" y="327.6" font-size="10" font-weight="bold" fill="#fff" text-anchor="middle">269</text>
<text x="437.5" y="301.3" font-size="10" font-weight="bold" fill="#fff" text-anchor="middle">228</text>
<text x="477.5" y="284.7" font-size="10" font-weight="bold" fill="#fff" text-anchor="middle">199</text>
<path d="M529.8 368L541.3 379.6L529.8 391.2L518.3 379.6Z" fill="#fff"/>
<text x="727" y="251" font-size="25" fill="#fff" stroke="#fff" stroke-width="0.3">OS</text>
<text x="328.7" y="632.3" font-size="25" fill="#fff" stroke="#fff" stroke-width="0.3">N</text>
<text x="727" y="632.3" font-size="25" fill="#fff" stroke="#fff" stroke-width="0.3">T</text>
</svg>
<div class="t" style="left:0px;top:692.8px;font-size:17.5px;letter-spacing:0.25px;color:#fff">Sagittal Height</div>
<div class="t" style="left:617px;top:693.3px;font-size:18px;letter-spacing:0.3px;color:#fff">Diameter</div>
<div class="t" style="left:903.3px;top:693px;font-size:18.2px;letter-spacing:0.5px;color:#fff">mm</div>
<div class="abs" style="left:697px;top:680px;width:193px;height:40px;border:1px solid #474747;border-radius:5px;background:#282828"></div>
<div class="vl" style="left:740px;top:681px;height:38px;background:#474747"></div>
<div class="vl" style="left:847px;top:681px;height:38px;background:#474747"></div>
<div class="abs" style="left:741px;top:681px;width:106px;height:38px;background:#242424;font-size:18px;color:#e0e0e0;text-align:center;line-height:40.5px">7</div>
<div class="abs" style="left:712px;top:699px;width:13px;height:1.2px;background:#c4c4c4"></div>
<div class="abs" style="left:861px;top:699px;width:14px;height:1.2px;background:#c4c4c4"></div>
<div class="abs" style="left:867.4px;top:692.6px;width:1.2px;height:14px;background:#c4c4c4"></div>
<div class="hl" style="left:0;top:724px;width:935px;height:1px;background:#8a8a8a"></div>
<div class="hl" style="left:0;top:953px;width:935px;height:1px;background:#868686"></div>
<svg width="960" height="1200" viewBox="0 0 960 1200">
<line x1="30.00" x2="30.00" y1="746.75" y2="921.75" stroke="#383838" stroke-width="1"/>
<line x1="79.20" x2="79.20" y1="746.75" y2="921.75" stroke="#383838" stroke-width="1"/>
<line x1="128.40" x2="128.40" y1="746.75" y2="921.75" stroke="#383838" stroke-width="1"/>
<line x1="177.60" x2="177.60" y1="746.75" y2="921.75" stroke="#383838" stroke-width="1"/>
<line x1="226.80" x2="226.80" y1="746.75" y2="921.75" stroke="#383838" stroke-width="1"/>
<line x1="276.00" x2="276.00" y1="746.75" y2="921.75" stroke="#383838" stroke-width="1"/>
<line x1="325.20" x2="325.20" y1="746.75" y2="921.75" stroke="#383838" stroke-width="1"/>
<line x1="374.40" x2="374.40" y1="746.75" y2="921.75" stroke="#383838" stroke-width="1"/>
<line x1="423.60" x2="423.60" y1="746.75" y2="921.75" stroke="#383838" stroke-width="1"/>
<line x1="472.80" x2="472.80" y1="746.75" y2="921.75" stroke="#383838" stroke-width="1"/>
<line x1="522.00" x2="522.00" y1="746.75" y2="921.75" stroke="#383838" stroke-width="1"/>
<line x1="571.20" x2="571.20" y1="746.75" y2="921.75" stroke="#383838" stroke-width="1"/>
<line x1="620.40" x2="620.40" y1="746.75" y2="921.75" stroke="#383838" stroke-width="1"/>
<line x1="669.60" x2="669.60" y1="746.75" y2="921.75" stroke="#383838" stroke-width="1"/>
<line x1="718.80" x2="718.80" y1="746.75" y2="921.75" stroke="#383838" stroke-width="1"/>
<line x1="768.00" x2="768.00" y1="746.75" y2="921.75" stroke="#383838" stroke-width="1"/>
<line x1="817.20" x2="817.20" y1="746.75" y2="921.75" stroke="#383838" stroke-width="1"/>
<line x1="866.40" x2="866.40" y1="746.75" y2="921.75" stroke="#383838" stroke-width="1"/>
<line x1="915.60" x2="915.60" y1="746.75" y2="921.75" stroke="#383838" stroke-width="1"/>
<line x1="30.00" x2="915.60" y1="746.75" y2="746.75" stroke="#383838" stroke-width="1"/>
<line x1="30.00" x2="915.60" y1="781.75" y2="781.75" stroke="#383838" stroke-width="1"/>
<line x1="30.00" x2="915.60" y1="816.75" y2="816.75" stroke="#383838" stroke-width="1"/>
<line x1="30.00" x2="915.60" y1="851.75" y2="851.75" stroke="#383838" stroke-width="1"/>
<line x1="30.00" x2="915.60" y1="886.75" y2="886.75" stroke="#383838" stroke-width="1"/>
<line x1="30.00" x2="915.60" y1="921.75" y2="921.75" stroke="#383838" stroke-width="1"/>
<line x1="30.00" x2="30.00" y1="746.75" y2="921.75" stroke="#404040" stroke-width="1"/>
<text class="ser" x="30.00" y="939" font-size="15" fill="#c8c8c8" text-anchor="middle">0</text>
<text class="ser" x="79.20" y="939" font-size="15" fill="#c8c8c8" text-anchor="middle">20</text>
<text class="ser" x="128.40" y="939" font-size="15" fill="#c8c8c8" text-anchor="middle">40</text>
<text class="ser" x="177.60" y="939" font-size="15" fill="#c8c8c8" text-anchor="middle">60</text>
<text class="ser" x="226.80" y="939" font-size="15" fill="#c8c8c8" text-anchor="middle">80</text>
<text class="ser" x="276.00" y="939" font-size="15" fill="#c8c8c8" text-anchor="middle">100</text>
<text class="ser" x="325.20" y="939" font-size="15" fill="#c8c8c8" text-anchor="middle">120</text>
<text class="ser" x="374.40" y="939" font-size="15" fill="#c8c8c8" text-anchor="middle">140</text>
<text class="ser" x="423.60" y="939" font-size="15" fill="#c8c8c8" text-anchor="middle">160</text>
<text class="ser" x="472.80" y="939" font-size="15" fill="#c8c8c8" text-anchor="middle">180</text>
<text class="ser" x="522.00" y="939" font-size="15" fill="#c8c8c8" text-anchor="middle">200</text>
<text class="ser" x="571.20" y="939" font-size="15" fill="#c8c8c8" text-anchor="middle">220</text>
<text class="ser" x="620.40" y="939" font-size="15" fill="#c8c8c8" text-anchor="middle">240</text>
<text class="ser" x="669.60" y="939" font-size="15" fill="#c8c8c8" text-anchor="middle">260</text>
<text class="ser" x="718.80" y="939" font-size="15" fill="#c8c8c8" text-anchor="middle">280</text>
<text class="ser" x="768.00" y="939" font-size="15" fill="#c8c8c8" text-anchor="middle">300</text>
<text class="ser" x="817.20" y="939" font-size="15" fill="#c8c8c8" text-anchor="middle">320</text>
<text class="ser" x="866.40" y="939" font-size="15" fill="#c8c8c8" text-anchor="middle">340</text>
<text class="ser" x="915.60" y="939" font-size="15" fill="#c8c8c8" text-anchor="middle">360</text>
<text class="ser" x="26.5" y="753.75" font-size="15.5" fill="#c8c8c8" text-anchor="end">0.90</text>
<text class="ser" x="26.5" y="788.75" font-size="15.5" fill="#c8c8c8" text-anchor="end">0.86</text>
<text class="ser" x="26.5" y="823.75" font-size="15.5" fill="#c8c8c8" text-anchor="end">0.82</text>
<text class="ser" x="26.5" y="858.75" font-size="15.5" fill="#c8c8c8" text-anchor="end">0.78</text>
<text class="ser" x="26.5" y="893.75" font-size="15.5" fill="#c8c8c8" text-anchor="end">0.74</text>
<text class="ser" x="26.5" y="928.75" font-size="15.5" fill="#c8c8c8" text-anchor="end">0.70</text>
<text class="ser" x="16.8" y="733.8" font-size="17" fill="#c8c8c8">mm</text>
<polyline points="30.0,837.7 32.9,833.6 35.7,837.8 39.0,834.9 42.4,836.2 45.8,834.0 48.6,836.1 52.6,833.1 55.6,835.9 59.7,831.4 63.0,837.0 65.8,835.5 70.7,837.4 75.6,838.0 80.5,837.2 85.4,835.8 90.4,836.2 93.5,831.6 96.4,833.3 100.3,829.8 103.8,832.8 107.1,828.3 109.9,831.0 112.9,826.7 116.3,829.8 119.8,825.1 123.0,828.3 126.7,823.3 130.3,825.3 134.3,819.6 137.4,824.6 140.3,819.8 144.1,822.7 147.5,820.4 151.2,822.6 154.8,816.2 157.9,820.7 161.5,815.2 164.9,819.1 169.0,813.6 172.7,816.0 176.4,812.2 180.6,817.2 183.7,813.1 187.4,815.9 190.8,814.0 193.7,815.6 198.6,815.8 203.5,816.0 208.4,816.0 213.4,815.3 218.3,812.8 222.1,813.4 225.2,809.4 229.2,810.9 232.6,806.8 236.6,810.8 240.5,806.8 243.9,808.5 248.8,808.5 253.7,808.5 258.6,808.5 263.5,809.8 267.6,805.1 270.5,810.4 273.5,808.8 277.0,813.3 280.0,811.6 283.4,814.7 286.9,810.2 290.6,815.8 294.3,815.4 299.2,817.5 304.1,818.9 309.0,821.0 311.8,815.7 315.7,821.9 319.5,818.1 322.8,821.5 326.5,820.1 329.3,822.5 332.2,819.9 335.0,822.5 337.9,820.8 341.2,823.0 345.2,820.7 348.1,825.7 351.3,824.1 354.2,829.8 358.4,827.5 361.8,832.2 364.7,830.8 367.8,836.0 370.7,833.7 374.8,836.6 377.7,832.8 380.5,837.5 384.6,833.8 388.4,839.7 391.6,838.3 395.5,842.2 399.3,839.1 402.4,843.6 406.5,839.5 410.4,847.1 414.2,847.1 419.1,849.2 424.0,850.0 429.0,849.9 433.9,849.6 438.8,850.3 442.3,847.2 445.0,849.7 448.1,847.3 451.9,851.2 455.2,844.7 459.4,850.1 462.6,845.6 465.7,846.6 470.6,846.1 475.5,847.0 478.5,843.4 482.6,848.7 486.0,844.0 489.9,848.0 493.5,843.9 497.4,849.8 500.8,846.5 504.7,849.4 508.6,849.2 513.5,850.6 518.4,851.0 523.3,850.3 528.3,849.1 533.2,850.0 536.5,844.5 540.6,847.6 543.5,843.9 546.5,847.3 550.4,843.4 554.3,846.5 558.0,841.2 561.5,843.0 564.2,837.5 567.9,841.7 572.0,836.7 575.9,840.0 579.0,835.7 582.1,838.1 585.7,835.2 589.0,837.2 593.0,833.2 596.4,835.6 600.5,830.0 604.5,831.9 608.0,826.4 610.8,829.3 613.7,826.0 617.6,827.1 621.0,822.9 624.5,827.4 628.0,824.1 631.9,828.1 635.4,828.0 640.3,828.7 645.3,829.0 650.2,828.3 655.1,826.8 660.0,826.1 663.1,820.8 666.6,824.9 670.4,819.4 673.8,824.7 677.2,820.3 681.0,824.0 684.4,820.0 688.5,822.1 693.5,822.0 698.4,822.3 703.3,820.2 707.3,826.6 710.4,822.3 714.5,827.8 717.4,824.7 720.8,826.8 723.8,825.4 727.5,829.5 731.5,828.6 736.5,830.0 741.4,830.9 746.3,830.8 751.2,828.4 755.0,830.5 757.9,824.3 762.0,827.7 766.1,824.0 769.6,828.5 773.5,824.9 776.9,828.1 780.1,825.5 783.2,829.4 786.0,825.4 789.3,829.1 792.5,826.2 796.0,830.1 800.1,826.6 804.3,830.8 807.4,829.0 811.2,831.4 814.1,828.5 818.2,833.3 821.3,830.3 825.3,834.0 829.1,831.7 831.9,835.2 835.2,832.5 839.3,835.7 843.2,832.9 847.1,835.1 851.1,833.0 854.3,837.7 858.4,835.5 861.3,839.5 864.4,838.7 869.3,839.7 874.2,840.0 879.1,839.4 884.0,837.0 887.0,838.1 890.0,834.9 893.1,838.2 896.3,833.6 899.2,837.3 902.0,834.5 904.7,838.2 908.2,834.9 911.6,838.8" fill="none" stroke="#cfcfcf" stroke-width="1" stroke-linejoin="round"/>
<defs><linearGradient id="lg" x1="0" y1="1093" x2="0" y2="1174" gradientUnits="userSpaceOnUse"><stop offset="0" stop-color="#00ee00"/><stop offset="0.5" stop-color="#007c00"/><stop offset="1" stop-color="#000"/></linearGradient></defs>
<line x1="25.00" x2="25.00" y1="976" y2="1176.7" stroke="#393939" stroke-width="1"/>
<line x1="69.50" x2="69.50" y1="976" y2="1176.7" stroke="#393939" stroke-width="1"/>
<line x1="114.00" x2="114.00" y1="976" y2="1176.7" stroke="#393939" stroke-width="1"/>
<line x1="158.50" x2="158.50" y1="976" y2="1176.7" stroke="#393939" stroke-width="1"/>
<line x1="203.00" x2="203.00" y1="976" y2="1176.7" stroke="#393939" stroke-width="1"/>
<line x1="247.50" x2="247.50" y1="976" y2="1176.7" stroke="#393939" stroke-width="1"/>
<line x1="292.00" x2="292.00" y1="976" y2="1176.7" stroke="#393939" stroke-width="1"/>
<line x1="336.50" x2="336.50" y1="976" y2="1176.7" stroke="#393939" stroke-width="1"/>
<line x1="381.00" x2="381.00" y1="976" y2="1176.7" stroke="#393939" stroke-width="1"/>
<line x1="425.50" x2="425.50" y1="976" y2="1176.7" stroke="#393939" stroke-width="1"/>
<line x1="470.00" x2="470.00" y1="976" y2="1176.7" stroke="#393939" stroke-width="1"/>
<line x1="514.50" x2="514.50" y1="976" y2="1176.7" stroke="#393939" stroke-width="1"/>
<line x1="559.00" x2="559.00" y1="976" y2="1176.7" stroke="#393939" stroke-width="1"/>
<line x1="603.50" x2="603.50" y1="976" y2="1176.7" stroke="#393939" stroke-width="1"/>
<line x1="648.00" x2="648.00" y1="976" y2="1176.7" stroke="#393939" stroke-width="1"/>
<line x1="692.50" x2="692.50" y1="976" y2="1176.7" stroke="#393939" stroke-width="1"/>
<line x1="737.00" x2="737.00" y1="976" y2="1176.7" stroke="#393939" stroke-width="1"/>
<line x1="781.50" x2="781.50" y1="976" y2="1176.7" stroke="#393939" stroke-width="1"/>
<line x1="826.00" x2="826.00" y1="976" y2="1176.7" stroke="#393939" stroke-width="1"/>
<line x1="870.50" x2="870.50" y1="976" y2="1176.7" stroke="#393939" stroke-width="1"/>
<line x1="915.00" x2="915.00" y1="976" y2="1176.7" stroke="#393939" stroke-width="1"/>
<line x1="25" x2="915.5" y1="1149.77" y2="1149.77" stroke="#393939" stroke-width="1"/>
<line x1="25" x2="915.5" y1="1122.84" y2="1122.84" stroke="#393939" stroke-width="1"/>
<line x1="25" x2="915.5" y1="1095.91" y2="1095.91" stroke="#393939" stroke-width="1"/>
<line x1="25" x2="915.5" y1="1068.98" y2="1068.98" stroke="#393939" stroke-width="1"/>
<line x1="25" x2="915.5" y1="1042.05" y2="1042.05" stroke="#393939" stroke-width="1"/>
<line x1="25" x2="915.5" y1="1015.12" y2="1015.12" stroke="#393939" stroke-width="1"/>
<line x1="25" x2="915.5" y1="988.19" y2="988.19" stroke="#393939" stroke-width="1"/>
<polygon points="24.3,976 25.0,976.0 47.2,1001.0 69.5,1025.0 91.8,1046.0 114.0,1065.0 136.2,1079.0 158.5,1091.0 180.8,1098.0 203.0,1105.0 225.2,1117.0 247.5,1128.0 269.8,1138.0 292.0,1146.0 314.2,1153.5 336.5,1160.0 358.8,1164.7 381.0,1168.7 403.2,1171.7 425.5,1174.0 447.8,1175.4 470.0,1176.0 470.0,1176.6 24.3,1176.6" fill="url(#lg)"/>
<polygon points="470.0,1176.0 492.2,1175.7 514.5,1175.0 536.8,1173.0 559.0,1170.0 581.2,1166.5 603.5,1162.0 625.8,1156.5 648.0,1150.0 670.2,1143.0 692.5,1135.0 714.8,1125.5 737.0,1115.8 759.2,1110.0 781.5,1105.0 803.8,1094.5 826.0,1082.5 848.2,1066.0 870.5,1047.5 892.8,1028.0 915.0,1007.5 915.0,1176.6 470.0,1176.6" fill="url(#lg)"/>
<polyline points="25.0,976.0 47.2,1001.0 69.5,1025.0 91.8,1046.0 114.0,1065.0 136.2,1079.0 158.5,1091.0 180.8,1098.0 203.0,1105.0 225.2,1117.0 247.5,1128.0 269.8,1138.0 292.0,1146.0 314.2,1153.5 336.5,1160.0 358.8,1164.7 381.0,1168.7 403.2,1171.7 425.5,1174.0 447.8,1175.4 470.0,1176.0" fill="none" stroke="#e8ffe8" stroke-width="1.1"/>
<polyline points="470.0,1176.0 492.2,1175.7 514.5,1175.0 536.8,1173.0 559.0,1170.0 581.2,1166.5 603.5,1162.0 625.8,1156.5 648.0,1150.0 670.2,1143.0 692.5,1135.0 714.8,1125.5 737.0,1115.8 759.2,1110.0 781.5,1105.0 803.8,1094.5 826.0,1082.5 848.2,1066.0 870.5,1047.5 892.8,1028.0 915.0,1007.5" fill="none" stroke="#fff" stroke-width="1.3" stroke-dasharray="1.4 2.4"/>
<text class="ser" x="26.20" y="1194.5" font-size="17.5" fill="#c8c8c8" text-anchor="middle">-5.0</text>
<text class="ser" x="70.70" y="1194.5" font-size="17.5" fill="#c8c8c8" text-anchor="middle">-4.5</text>
<text class="ser" x="115.20" y="1194.5" font-size="17.5" fill="#c8c8c8" text-anchor="middle">-4.0</text>
<text class="ser" x="159.70" y="1194.5" font-size="17.5" fill="#c8c8c8" text-anchor="middle">-3.5</text>
<text class="ser" x="204.20" y="1194.5" font-size="17.5" fill="#c8c8c8" text-anchor="middle">-3.0</text>
<text class="ser" x="248.70" y="1194.5" font-size="17.5" fill="#c8c8c8" text-anchor="middle">-2.5</text>
<text class="ser" x="293.20" y="1194.5" font-size="17.5" fill="#c8c8c8" text-anchor="middle">-2.0</text>
<text class="ser" x="337.70" y="1194.5" font-size="17.5" fill="#c8c8c8" text-anchor="middle">-1.5</text>
<text class="ser" x="382.20" y="1194.5" font-size="17.5" fill="#c8c8c8" text-anchor="middle">-1.0</text>
<text class="ser" x="426.70" y="1194.5" font-size="17.5" fill="#c8c8c8" text-anchor="middle">-0.5</text>
<text class="ser" x="469.60" y="1194.5" font-size="17.5" fill="#c8c8c8" text-anchor="middle">0</text>
<text class="ser" x="514.10" y="1194.5" font-size="17.5" fill="#c8c8c8" text-anchor="middle">0.5</text>
<text class="ser" x="558.60" y="1194.5" font-size="17.5" fill="#c8c8c8" text-anchor="middle">1.0</text>
<text class="ser" x="603.10" y="1194.5" font-size="17.5" fill="#c8c8c8" text-anchor="middle">1.5</text>
<text class="ser" x="647.60" y="1194.5" font-size="17.5" fill="#c8c8c8" text-anchor="middle">2.0</text>
<text class="ser" x="692.10" y="1194.5" font-size="17.5" fill="#c8c8c8" text-anchor="middle">2.5</text>
<text class="ser" x="736.60" y="1194.5" font-size="17.5" fill="#c8c8c8" text-anchor="middle">3.0</text>
<text class="ser" x="781.10" y="1194.5" font-size="17.5" fill="#c8c8c8" text-anchor="middle">3.5</text>
<text class="ser" x="825.60" y="1194.5" font-size="17.5" fill="#c8c8c8" text-anchor="middle">4.0</text>
<text class="ser" x="870.10" y="1194.5" font-size="17.5" fill="#c8c8c8" text-anchor="middle">4.5</text>
<text class="ser" x="914.60" y="1194.5" font-size="17.5" fill="#c8c8c8" text-anchor="middle">5.0</text>
<text class="ser" x="23.8" y="1155.77" font-size="17.5" fill="#c8c8c8" text-anchor="end">40</text>
<text class="ser" x="23.8" y="1128.84" font-size="17.5" fill="#c8c8c8" text-anchor="end">80</text>
<text class="ser" x="23.8" y="1101.91" font-size="17.5" fill="#c8c8c8" text-anchor="end">120</text>
<text class="ser" x="23.8" y="1074.98" font-size="17.5" fill="#c8c8c8" text-anchor="end">160</text>
<text class="ser" x="23.8" y="1048.05" font-size="17.5" fill="#c8c8c8" text-anchor="end">200</text>
<text class="ser" x="23.8" y="1021.12" font-size="17.5" fill="#c8c8c8" text-anchor="end">240</text>
<text class="ser" x="23.8" y="994.19" font-size="17.5" fill="#c8c8c8" text-anchor="end">280</text>
<text class="ser" x="13.2" y="965.3" font-size="17.5" fill="#c8c8c8">µm</text>
<text class="ser" x="935.5" y="969.3" font-size="16.5" fill="#c8c8c8" text-anchor="end">0.0</text>
</svg>
<div class="t" style="left:974px;top:211.5px;font-size:18px;letter-spacing:0.65px;color:#e4e4e4">Manufacturer</div>
<div class="t" style="left:974px;top:275.5px;font-size:18px;letter-spacing:-0.1px;color:#e4e4e4">Lens</div>
<div class="abs" style="left:1128px;top:200px;width:747px;height:41px;border:1px solid transparent;border-radius:4px;background:#242424;font-size:18px;color:#e0e0e0;line-height:40px;padding-left:15px;letter-spacing:0.65px">Mediworks</div>
<div class="abs" style="left:1128px;top:264px;width:747px;height:41px;border:1px solid transparent;border-radius:5px;background:#232323;font-size:18px;color:#e0e0e0;line-height:41px;padding-left:15px;letter-spacing:0.3px">M20</div>
<svg width="1920" height="320" viewBox="0 0 1920 320"><rect x="1128.6" y="200.7" width="745.8" height="39.8" rx="4.5" fill="none" stroke="#4e4e4e" stroke-width="1.4"/><rect x="1128.7" y="264.8" width="745.6" height="39.6" rx="5" fill="none" stroke="#2a69d2" stroke-width="1.6"/><path d="M1844 218.1l6 6l6-6M1844 282.1l6 6l6-6" fill="none" stroke="#c4c4c4" stroke-width="1.2" stroke-linecap="round" stroke-linejoin="round"/></svg>
<div class="lbl" style="left:974px;top:408.20px">R0:</div>
<div class="inp" style="left:1024px;top:394.50px;width:178px">9.20</div>
<div class="mm" style="left:1208px;top:408.20px">mm</div>
<div class="lbl" style="left:1291px;top:408.20px">W0:</div>
<div class="inp" style="left:1348px;top:394.50px;width:172px">3.00</div>
<div class="mm" style="left:1525.5px;top:408.20px">mm</div>
<div class="lbl" style="left:1610px;top:408.20px">K0:</div>
<div class="inp" style="left:1659px;top:394.50px;width:218px">0.00</div>
<div class="lbl" style="left:974px;top:523.45px">R1:</div>
<div class="inp" style="left:1024px;top:509.75px;width:178px">8.40</div>
<div class="mm" style="left:1208px;top:523.45px">mm</div>
<div class="lbl" style="left:1291px;top:523.45px">W1:</div>
<div class="inp" style="left:1348px;top:509.75px;width:172px">0.50</div>
<div class="mm" style="left:1525.5px;top:523.45px">mm</div>
<div class="lbl" style="left:1610px;top:523.45px">K1:</div>
<div class="inp" style="left:1659px;top:509.75px;width:218px">0.00</div>
<div class="lbl" style="left:974px;top:638.70px">R2:</div>
<div class="inp" style="left:1024px;top:625.00px;width:178px">8.90</div>
<div class="mm" style="left:1208px;top:638.70px">mm</div>
<div class="lbl" style="left:1291px;top:638.70px">W2:</div>
<div class="inp" style="left:1348px;top:625.00px;width:172px">0.50</div>
<div class="mm" style="left:1525.5px;top:638.70px">mm</div>
<div class="lbl" style="left:1610px;top:638.70px">K2:</div>
<div class="inp" style="left:1659px;top:625.00px;width:218px">0.00</div>
<div class="lbl" style="left:974px;top:753.95px">R3:</div>
<div class="inp" style="left:1024px;top:740.25px;width:178px">9.20</div>
<div class="mm" style="left:1208px;top:753.95px">mm</div>
<div class="lbl" style="left:1291px;top:753.95px">W3:</div>
<div class="inp" style="left:1348px;top:740.25px;width:172px">1.00</div>
<div class="mm" style="left:1525.5px;top:753.95px">mm</div>
<div class="lbl" style="left:1610px;top:753.95px">K3:</div>
<div class="inp" style="left:1659px;top:740.25px;width:218px">0.00</div>
<div class="lbl" style="left:974px;top:869.20px">R4:</div>
<div class="inp" style="left:1024px;top:855.50px;width:178px">0.00</div>
<div class="mm" style="left:1208px;top:869.20px">mm</div>
<div class="lbl" style="left:1291px;top:869.20px">W4:</div>
<div class="inp" style="left:1348px;top:855.50px;width:172px">0.00</div>
<div class="mm" style="left:1525.5px;top:869.20px">mm</div>
<div class="lbl" style="left:1610px;top:869.20px">K4:</div>
<div class="inp" style="left:1659px;top:855.50px;width:218px">0.00</div>
<div class="lbl" style="left:974px;top:984.45px">R5:</div>
<div class="inp" style="left:1024px;top:970.75px;width:178px">0.00</div>
<div class="mm" style="left:1208px;top:984.45px">mm</div>
<div class="lbl" style="left:1291px;top:984.45px">W5:</div>
<div class="inp" style="left:1348px;top:970.75px;width:172px">0.00</div>
<div class="mm" style="left:1525.5px;top:984.45px">mm</div>
<div class="lbl" style="left:1610px;top:984.45px">K5:</div>
<div class="inp" style="left:1659px;top:970.75px;width:218px">0.00</div>
<div class="lbl" style="left:974px;top:1099.70px">R6:</div>
<div class="inp" style="left:1024px;top:1086.00px;width:178px">0.00</div>
<div class="mm" style="left:1208px;top:1099.70px">mm</div>
<div class="lbl" style="left:1291px;top:1099.70px">W6:</div>
<div class="inp" style="left:1348px;top:1086.00px;width:172px">0.00</div>
<div class="mm" style="left:1525.5px;top:1099.70px">mm</div>
<div class="lbl" style="left:1610px;top:1099.70px">K6:</div>
<div class="inp" style="left:1659px;top:1086.00px;width:218px">0.00</div>
<div class="abs" style="left:1918px;top:0;width:2px;height:1200px;background:#2a2a2a"></div><div class="abs" style="left:0;top:0;width:1920px;height:1px;background:#303030"></div><div class="abs" style="left:0;top:0;width:1px;height:161px;background:#303030"></div>
</body></html>
